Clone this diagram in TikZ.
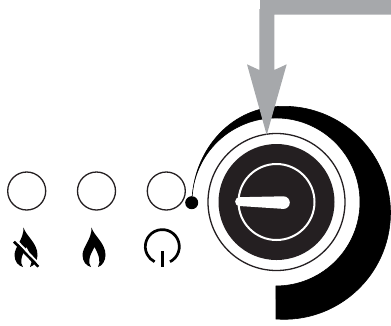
\documentclass[tikz,border=0pt]{standalone}
\usepackage{tikz}
\usetikzlibrary{positioning}
\definecolor{dialblack}{rgb}{0.14,0.12,0.13}
\definecolor{arrowgray}{rgb}{0.65,0.66,0.67}
\tikzset{
  led/.style={
    circle,
    draw=dialblack,
    line width=1.3pt,
    minimum size=38pt,
    inner sep=0pt
  },
  ring/.style={
    circle,
    line width=1.3pt,
    inner sep=0pt
  },
  icono/.style={
    line width=2.7pt,
    black
  },
  flame/.pic={
    \fill[black,even odd rule] (-2.5,-39.5) .. controls (0,-31) and (11.5,-24) .. (11.5,-12)
      .. controls (11.5,-6) and (8,-1) .. (4,0)
      .. controls (7,-5) and (5,-12) .. (0.5,-20)
      .. controls (-4,-12) and (-7,-5) .. (-3,0)
      .. controls (-8,-1) and (-11.5,-6) .. (-11.5,-12)
      .. controls (-11.5,-20) and (-2,-28) .. (-2.5,-39.5) -- cycle;
  }
}
\begin{document}
\begin{tikzpicture}[x=1pt,y=-1pt,node distance=30.5pt]
\useasboundingbox (0,0) rectangle (391,325);
\node[led] (a) at (26.7,191) {};
\node[led,right=of a] (b) {};
\node[led,right=of b] (c) {};
\filldraw[black,line width=.6pt] (276,319) arc[start angle=-94.3,end angle=90,radius=106.5pt]
  .. controls (232,106) and (196,148) .. (192.2,196.1)
  arc[start angle=176,end angle=-90,radius=84pt] -- cycle;
\node[circle,fill=black,minimum size=13pt,inner sep=0pt] (punto) at (191.7,202.7) {};
\node[ring,draw=dialblack,minimum size=137pt] (outer) at (276.5,202) {};
\node[circle,fill=dialblack,minimum size=116pt,inner sep=0pt] (disk) at (outer.center) {};
\node[ring,draw=white,line width=2pt,minimum size=76pt] (inner) at (outer.center) {};
\fill[white] (239.5,197.2) -- (283.5,196.3) arc[start angle=90,end angle=-90,radius=6.3pt]
  -- (239.5,206) arc[start angle=-90,end angle=-270,radius=4.4pt] -- cycle;
\fill[arrowgray] (391,0) -- (260,0) -- (260,9) -- (259.3,9) -- (259.3,70) -- (247,64.3)
  -- (266.7,135) -- (286.7,64.3) -- (274.3,70) -- (274.3,14.5) -- (391,14.5) -- cycle;
\pic at (26,267) {flame};
\pic at (94,267) {flame};
\draw[white,line width=2pt] (16.5,240.5) -- (40.5,265.5);
\draw[black,line width=2.6pt] (14,241.7) -- (38.3,266.7);
\draw[icono] ([shift={(-63:17pt)}]162.3,246.6) arc[start angle=-63,end angle=243,radius=17pt];
\draw[icono] (162.3,251) -- (162.3,267);
\end{tikzpicture}
\end{document}
